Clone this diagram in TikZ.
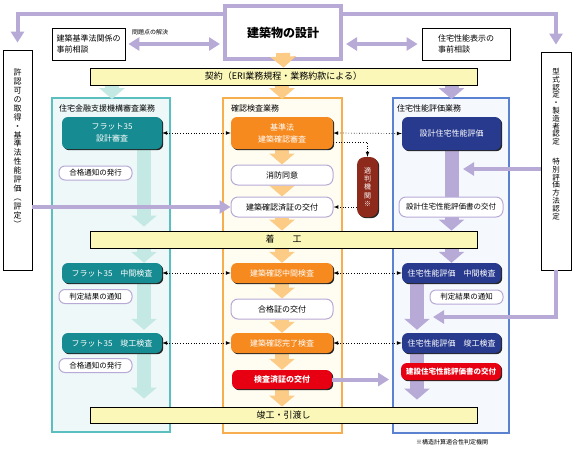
\documentclass[tikz,border=0pt]{standalone}
\usepackage{fontspec}
\setmainfont{Noto Sans CJK JP}
\usetikzlibrary{positioning,arrows.meta,shadows}
\definecolor{lavender}{HTML}{B8AAD6}
\definecolor{tealdark}{HTML}{168B91}
\definecolor{teallight}{HTML}{C4E9E4}
\definecolor{tealborder}{HTML}{5BBFC0}
\definecolor{tealfill}{HTML}{EEF8F8}
\definecolor{orangedark}{HTML}{F68A1F}
\definecolor{orangelight}{HTML}{FCCB85}
\definecolor{orangeborder}{HTML}{F6AE4E}
\definecolor{orangefill}{HTML}{FFFDF2}
\definecolor{navy}{HTML}{283A8E}
\definecolor{blueborder}{HTML}{5A82D0}
\definecolor{bluefill}{HTML}{F5F9FE}
\definecolor{redbright}{HTML}{E60012}
\definecolor{darkred}{HTML}{8E2A1C}
\definecolor{barfill}{HTML}{FAF7B8}
\pgfdeclarelayer{back}
\pgfdeclarelayer{flow}
\pgfsetlayers{back,flow,main}

\begin{document}
\begin{tikzpicture}[x=1pt, y=-1pt, >=latex, every node/.style={font=\fontsize{8}{10}\selectfont, inner sep=1pt},
  colbox/.style={draw, line width=1.8pt},
  colhead/.style={anchor=west, font=\fontsize{8}{9}\selectfont},
  stagebar/.style={draw, line width=0.8pt, fill=barfill, minimum width=387pt, minimum height=17pt, font=\fontsize{9}{10}\selectfont},
  plainbox/.style={draw, line width=0.8pt, fill=white, align=left, font=\fontsize{8}{11.5}\selectfont},
  sidebox/.style={draw, line width=0.8pt, fill=white},
  taskbox/.style={rounded corners=6pt, text=white, align=center, minimum height=20pt, drop shadow={shadow xshift=1.2pt, shadow yshift=-1.2pt, fill=black!85, opacity=1}},
  pillbox/.style={draw=lavender, line width=1pt, fill=white, rounded corners=7pt, minimum width=102pt, minimum height=20pt},
  notebox/.style={pillbox, minimum width=73pt, minimum height=14pt, rounded corners=6pt, font=\fontsize{7.5}{8.5}\selectfont},
  bigteal/.style={draw=teallight, line width=14pt, -{Triangle[width=25pt, length=11pt]}},
  bigorange/.style={draw=orangelight, line width=14pt, -{Triangle[width=25pt, length=11pt]}},
  biglav/.style={draw=lavender, line width=14pt, -{Triangle[width=25pt, length=11pt]}},
  lavline/.style={draw=lavender, line width=4pt, -{Triangle[width=13pt, length=11pt]}},
  lavboth/.style={lavline, {Triangle[width=13pt, length=11pt]}-{Triangle[width=13pt, length=11pt]}},
  dotarr/.style={dotted, line width=0.7pt, <->}]

\useasboundingbox (0,0) rectangle (573,448);

\node[draw=lavender, line width=4pt, fill=white, minimum width=116pt, minimum height=53pt, font=\fontsize{12}{14}\selectfont\bfseries] (design) at (283,32.5) {建築物の設計};
\node[plainbox, minimum width=73pt, minimum height=32pt] (consultL) at (88.5,44) {建築基準法関係の\\事前相談};
\node[plainbox, minimum width=88pt, minimum height=32pt] (consultR) at (466,44) {住宅性能表示の\\事前相談};
\node[font=\fontsize{6}{7}\selectfont] (solve) at (150,32) {問題点の解決};
\node[stagebar] (keiyaku) at (283.5,76.5) {契約（ERI業務規程・業務約款による）};

\node[sidebox, minimum width=29pt, minimum height=220pt] (leftbox) at (17.5,160) {};
\node[align=center, font=\fontsize{8}{8.9}\selectfont] (lefttxt) at (17.5,148) {許\\認\\可\\の\\取\\得\\・\\基\\準\\法\\性\\能\\評\\価\\︵\\評\\定\\︶};
\node[sidebox, minimum width=30pt, minimum height=218pt] (rightbox) at (556,161) {};
\node[align=center, font=\fontsize{7.5}{7.8}\selectfont] (righttxt) at (556,144) {型\\式\\認\\定\\・\\製\\造\\者\\認\\定\\[12pt]特\\別\\評\\価\\方\\法\\認\\定};

\begin{pgfonlayer}{back}
\node[colbox, draw=tealborder, fill=tealfill, minimum width=118pt, minimum height=334pt] (colfin) at (111,265) {};
\node[colbox, draw=orangeborder, fill=orangefill, minimum width=119pt, minimum height=335pt] (colconf) at (282.5,265.5) {};
\node[colbox, draw=blueborder, fill=bluefill, minimum width=116pt, minimum height=335pt] (colperf) at (451,265.5) {};
\end{pgfonlayer}
\node[colhead] (hfin) at (58,108) {住宅金融支援機構審査業務};
\node[colhead] (hconf) at (230,108) {確認検査業務};
\node[colhead] (hperf) at (396,108) {住宅性能評価業務};

\node[stagebar] (chakko) at (283.5,239.5) {着\hspace{2em}工};
\node[stagebar, minimum height=16pt] (kanko) at (283.5,415) {竣工・引渡し};

\node[taskbox, fill=tealdark, minimum width=100pt, minimum height=32pt, font=\fontsize{8}{12}\selectfont] (flat1) at (112,133) {フラット35\\設計審査};
\node[notebox] (pass1) at (95.5,173) {合格通知の発行};
\node[taskbox, fill=tealdark, minimum width=100pt] (flat2) at (112,273) {フラット35　中間検査};
\node[notebox] (judge1) at (95.5,296.5) {判定結果の通知};
\node[taskbox, fill=tealdark, minimum width=100pt] (flat3) at (112,343) {フラット35　竣工検査};
\node[notebox] (pass2) at (95.5,365.5) {合格通知の発行};

\node[taskbox, fill=orangedark, minimum width=102pt, minimum height=32pt, font=\fontsize{8}{12}\selectfont] (kijun) at (282,133) {基準法\\建築確認審査};
\node[pillbox] (shobo) at (282,175) {消防同意};
\node[pillbox] (sumisho) at (282,207) {建築確認済証の交付};
\node[taskbox, fill=orangedark, minimum width=102pt] (chukan) at (282,273) {建築確認中間検査};
\node[pillbox] (gokaku) at (282,309) {合格証の交付};
\node[taskbox, fill=orangedark, minimum width=102pt] (kanryo) at (282,343) {建築確認完了検査};
\node[taskbox, fill=redbright, minimum width=100pt, minimum height=19pt, font=\fontsize{8}{10}\selectfont\bfseries] (kensa) at (282,379.5) {検査済証の交付};
\node[taskbox, fill=darkred, rounded corners=8pt, minimum width=21pt, minimum height=60pt, font=\fontsize{7}{8.4}\selectfont] (tekihan) at (367.5,187) {適\\判\\機\\関\\※};

\node[taskbox, fill=navy, minimum width=99pt, minimum height=33pt] (sekkei) at (451.5,133.5) {設計住宅性能評価};
\node[pillbox, minimum width=104pt, font=\fontsize{7.5}{9}\selectfont] (sekkeisho) at (451,207) {設計住宅性能評価書の交付};
\node[taskbox, fill=navy, minimum width=99pt] (pchukan) at (451.5,273) {住宅性能評価　中間検査};
\node[notebox] (judge2) at (466.5,297) {判定結果の通知};
\node[taskbox, fill=navy, minimum width=99pt] (pkanko) at (451.5,343) {住宅性能評価　竣工検査};
\node[taskbox, fill=redbright, minimum width=100pt, minimum height=17pt, font=\fontsize{7.5}{9}\selectfont\bfseries] (kensetsu) at (451,371.5) {建設住宅性能評価書の交付};

\node[font=\fontsize{6}{7}\selectfont] (footnote) at (452,442) {※構造計算適合性判定機関};

\coordinate (tealx) at (144,0);
\coordinate (lavx) at (417,0);
\coordinate (rjoin) at (463,169);
\coordinate (rjoin2) at (433,317);

\begin{pgfonlayer}{flow}
\draw[bigteal, shorten >=-2pt] (keiyaku.south -| flat1) -- (colfin.north -| flat1);
\draw[bigorange, shorten >=-2pt] (keiyaku.south -| kijun) -- (colconf.north -| kijun);
\draw[biglav, shorten >=-2pt] (keiyaku.south -| sekkei) -- (colperf.north -| sekkei);
\draw[bigteal, shorten >=4pt] (tealx |- flat1.south) -- (tealx |- chakko.north);
\draw[bigteal] (tealx |- chakko.south) -- (tealx |- flat2.north);
\draw[bigteal, shorten >=3pt] (tealx |- flat2.south) -- (tealx |- flat3.north);
\draw[bigteal, shorten >=8pt] (tealx |- flat3.south) -- (tealx |- kanko.north);
\draw[bigorange] (kijun) -- (shobo);
\draw[bigorange] (shobo) -- (sumisho);
\draw[bigorange] (sumisho) -- (sumisho |- chakko.north);
\draw[bigorange] (chakko.south -| chukan) -- (chukan.north);
\draw[bigorange] (chukan) -- (gokaku);
\draw[bigorange] (gokaku) -- (kanryo);
\draw[bigorange] (kanryo) -- (kensa);
\draw[bigorange] (kensa) -- (kensa |- kanko.north);
\draw[biglav] (sekkei.south) -- (sekkei.south |- chakko.north);
\draw[biglav] (chakko.south -| pchukan) -- (pchukan.north);
\draw[biglav, shorten >=3pt] (lavx |- pchukan.south) -- (lavx |- pkanko.north);
\draw[biglav, shorten >=7pt] (lavx |- pkanko.south) -- (lavx |- kanko.north);
\end{pgfonlayer}
\draw[bigorange] ([yshift=8pt]design.south) -- (keiyaku.north);

\draw[lavline, shorten >=7pt] ([yshift=-10pt]design.north west) -| (leftbox.north);
\draw[lavline, shorten >=7pt] ([yshift=-10pt]design.north east) -| (rightbox.north);
\draw[lavboth, shorten <=3pt, shorten >=3pt] (consultL.east) -- (consultL.east -| design.west);
\draw[lavboth, shorten <=3pt, shorten >=4pt] (design.east |- consultR.west) -- (consultR.west);
\draw[lavline] (leftbox.east |- sumisho.west) -- (sumisho.west);
\draw[lavline] (rightbox.west |- rjoin) -- (rjoin);
\draw[lavline] (rightbox.south) |- (rjoin2);
\draw[lavline, shorten >=3pt] (kensa.east) -- (kensa.east -| colperf.west);

\draw[dotarr] (flat1.east) -- (kijun.west);
\draw[dotarr] (kijun.east) -- (sekkei.west);
\draw[dotted, line width=0.7pt, ->] ([yshift=-9pt]kijun.east) -| (tekihan.north);
\draw[dotted, line width=0.7pt, ->] (tekihan.west |- sumisho.east) -- (sumisho.east);
\draw[dotarr] (flat2.east) -- (chukan.west);
\draw[dotarr] (chukan.east) -- (pchukan.west);
\draw[dotarr] (flat3.east) -- (kanryo.west);
\draw[dotarr] (kanryo.east) -- (pkanko.west);
\end{tikzpicture}
\end{document}
